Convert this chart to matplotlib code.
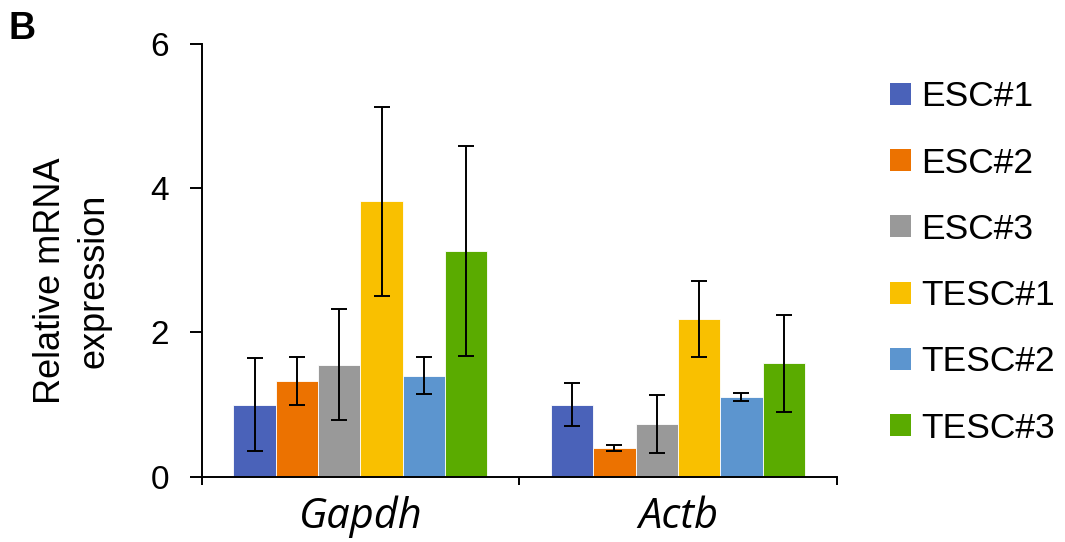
import matplotlib
matplotlib.use("Agg")
import matplotlib.pyplot as plt
import numpy as np
from matplotlib.patches import Patch

plt.rcParams['font.family'] = ['Liberation Sans', 'DejaVu Sans']

genes = ["Gapdh", "Actb"]
lines = ["ESC#1", "ESC#2", "ESC#3", "TESC#1", "TESC#2", "TESC#3"]
colors = ["#4A62B9", "#EC7200", "#999999", "#F9C000", "#5C95CF", "#5AAB00"]

# mean expression per cell line, [Gapdh, Actb]
means = {
    "ESC#1": [1.00, 1.00],
    "ESC#2": [1.33, 0.40],
    "ESC#3": [1.55, 0.73],
    "TESC#1": [3.82, 2.19],
    "TESC#2": [1.40, 1.11],
    "TESC#3": [3.13, 1.57],
}
# error bar half-widths
errors = {
    "ESC#1": [0.64, 0.30],
    "ESC#2": [0.33, 0.045],
    "ESC#3": [0.77, 0.40],
    "TESC#1": [1.31, 0.53],
    "TESC#2": [0.26, 0.055],
    "TESC#3": [1.46, 0.67],
}
yticks = [0, 2, 4, 6]

fig = plt.figure(figsize=(10.65, 5.42), dpi=100)
ax = fig.add_axes([0.1894, 0.1205, 0.5962, 0.7983])

n = len(lines)
group_w = 0.8
bw = group_w / n
centers = np.arange(len(genes)) + 0.5
for i, name in enumerate(lines):
    x = centers - group_w / 2 + bw * (i + 0.5)
    ax.bar(x, means[name], width=bw, color=colors[i], edgecolor="#ffffff",
           linewidth=0.6, zorder=2)
    ax.errorbar(x, means[name], yerr=errors[name], fmt="none", ecolor="black",
                elinewidth=1.4, capsize=5.8, capthick=1.4, zorder=3)

ax.set_xlim(0, len(genes))
ax.set_ylim(0, 6)
ax.set_yticks(yticks)
ax.set_yticklabels([str(t) for t in yticks], fontsize=24)
ax.tick_params(axis="y", direction="out", length=8.5, width=1.4, pad=15)

ax.set_xticks(np.arange(len(genes) + 1))
ax.set_xticklabels([""] * (len(genes) + 1))
ax.tick_params(axis="x", direction="out", length=6, width=1.4)
for c, g in zip(centers, genes):
    ax.text(c, -0.71, g, ha="center", va="baseline", fontsize=30, style="italic",
            family="Open Sans")

for s in ["top", "right"]:
    ax.spines[s].set_visible(False)
for s in ["left", "bottom"]:
    ax.spines[s].set_linewidth(1.4)

fig.text(0.068, 0.4815, "Relative mRNA\nexpression", fontsize=26, rotation=90,
         ha="center", va="center", multialignment="center", linespacing=1.3)

handles = [Patch(facecolor=c, edgecolor="none") for c in colors]
fig.legend(handles, lines, loc="upper left", bbox_to_anchor=(0.836, 0.852),
           frameon=False, fontsize=25.5, handlelength=0.58, handleheight=0.58,
           handletextpad=0.3, labelspacing=0.94, borderaxespad=0, borderpad=0)

fig.text(0.008, 0.928, "B", fontsize=27, fontweight="bold")

fig.savefig("out.png", dpi=100)
